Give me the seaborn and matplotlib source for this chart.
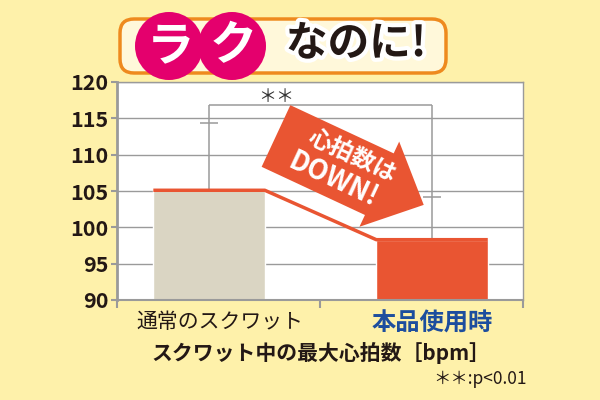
import numpy as np
import pandas as pd
import matplotlib
matplotlib.use('Agg')
import matplotlib.pyplot as plt
import matplotlib.patheffects as pe
from matplotlib.patches import Polygon, Circle, FancyBboxPatch
import seaborn as sns

# datos del gráfico
categorias = ['通常のスクワット', '本品使用時']
media_bpm = [105.1, 98.3]
sd_bpm = [9.2, 5.9]
nivel_corchete = 116.8
colores_barras = ['#DAD5C3', '#E95532']

sns.set_theme(style='white')
plt.rcParams['font.family'] = ['Noto Sans CJK JP', 'DejaVu Sans']

fondo = '#FEF1AA'
gris = '#9A9A9A'
fig = plt.figure(figsize=(6, 4), dpi=100, facecolor=fondo)
ax = fig.add_axes([117 / 600, 1 - 300 / 400, 406 / 600, 218 / 400])
ax.set_facecolor('white')

df = pd.DataFrame({'cat': categorias, 'bpm': media_bpm})
ancho = 0.5
sns.barplot(data=df, x='cat', y='bpm', hue='cat', palette=colores_barras,
            saturation=1, width=ancho, legend=False, ax=ax, zorder=2)
ax.set_ylim(90, 120)
ax.set_xlim(-0.413, 1.408)
ax.set_yticks(np.arange(90, 121, 5))
ax.yaxis.grid(True, color=gris, lw=1, zorder=0)
ax.set_axisbelow(True)

# barras de error + corchete de significancia
for i, (m, s) in enumerate(zip(media_bpm, sd_bpm)):
    ax.vlines(i, m, nivel_corchete, color=gris, lw=1.1, zorder=3)
    ax.hlines(m + s, i - 0.04, i + 0.04, color=gris, lw=1.1, zorder=3)
ax.hlines(nivel_corchete, 0, 1, color=gris, lw=1.1, zorder=3)
ax.text(0.3, 118.0, '＊＊', ha='center', va='center', fontsize=13, color='#333333', zorder=4)

# línea roja sobre las barras
xs = [0 - ancho / 2, 0 + ancho / 2, 1 - ancho / 2, 1 + ancho / 2]
ys = [media_bpm[0], media_bpm[0], media_bpm[1], media_bpm[1]]
ax.plot(xs, ys, color='#E95532', lw=2.5, solid_capstyle='butt', zorder=4)

for sp in ax.spines.values():
    sp.set_color(gris)
    sp.set_linewidth(1)
ax.spines['left'].set_linewidth(2)
ax.spines['bottom'].set_linewidth(1.5)

ax.tick_params(axis='y', left=True, length=4, width=1.5, color=gris, pad=2,
               labelsize=15.5, labelcolor='#231815')
for t in ax.get_yticklabels():
    t.set_fontweight('bold')
ax.set_xticks([0.05, 1.0])
ax.set_xticklabels(categorias)
ax.set_xticks([-0.413, 0.498, 1.408], minor=True)
ax.tick_params(axis='x', which='major', length=0, pad=8, labelsize=15)
ax.tick_params(axis='x', which='minor', bottom=True, length=6, width=1.5, color=gris)
lbls = ax.get_xticklabels()
lbls[0].set_color('#231815')
lbls[1].set_color('#1D4E9E')
lbls[1].set_fontweight('bold')
lbls[1].set_fontsize(17.5)
ax.set_ylabel('')
ax.set_xlabel('')

# capa superior en píxeles para los adornos
ov = fig.add_axes([0, 0, 1, 1], zorder=5)
ov.set_xlim(0, 600)
ov.set_ylim(400, 0)
ov.axis('off')
ov.patch.set_alpha(0)

ov.text(321, 353, 'スクワット中の最大心拍数［bpm］', ha='center', va='center',
        fontsize=15, fontweight='bold', color='#231815')
ov.text(527, 379, '＊＊:p<0.01', ha='right', va='center', fontsize=12.5, color='#231815')

# flecha "心拍数はDOWN!"
th = np.deg2rad(25)
d = np.array([np.cos(th), np.sin(th)])
n = np.array([-np.sin(th), np.cos(th)])
p0 = np.array([276, 136])
loc = [(0, -34), (114, -34), (114, -47), (163, 0), (114, 47), (114, 34), (0, 34)]
pts = [p0 + u * d + v * n for u, v in loc]
ov.add_patch(Polygon(pts, closed=True, facecolor='#E95532', edgecolor='none'))
ov.text(352, 156, '心拍数は', rotation=-25, ha='center', va='center', fontsize=17,
        fontweight='bold', color='white', rotation_mode='anchor')
ov.text(333, 180, 'DOWN!', rotation=-25, ha='center', va='center', fontsize=19.5,
        fontweight='bold', color='white', rotation_mode='anchor')

# título
ov.add_patch(FancyBboxPatch((120, 19), 326, 54, boxstyle='round,pad=0,rounding_size=14',
                            facecolor='#FFF8DA', edgecolor='#EE8A1E', lw=2.5))
for cx, ch in [(169, 'ラ'), (232, 'ク')]:
    ov.add_patch(Circle((cx, 46), 34, facecolor='#E4006D', edgecolor='none'))
    ov.text(cx + 1, 46, ch, ha='center', va='center', fontsize=34, fontweight='bold',
            color='white')
ov.text(356, 44, 'なのに!', ha='center', va='center', fontsize=30, fontweight='bold',
        color='#231815', path_effects=[pe.withStroke(linewidth=6, foreground='white')])

fig.savefig('out.png', dpi=100, facecolor=fondo)
